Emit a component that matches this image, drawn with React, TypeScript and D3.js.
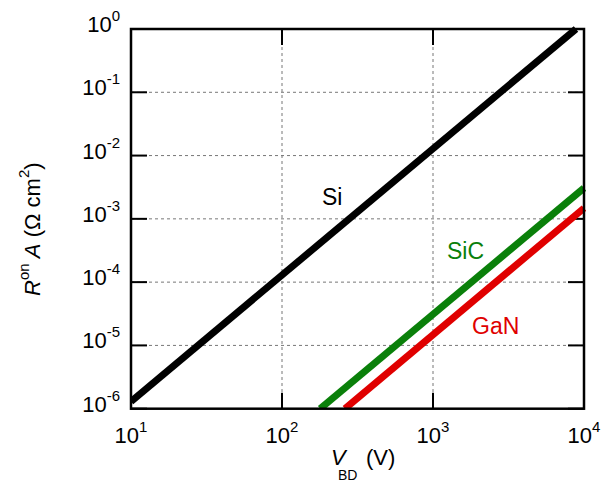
import React from "react";
import * as d3 from "d3";

const xTicks = [1, 2, 3, 4]; // exponents of 10 for V_BD
const yTicks = [0, -1, -2, -3, -4, -5, -6]; // exponents of 10 for RonA

const siV = [10, 8850];
const siR = [1.3e-6, 1.0];
const sicV = [179, 10000];
const sicR = [1.0e-6, 3.07e-3];
const ganV = [261, 10000];
const ganR = [1.0e-6, 1.48e-3];

const seriesNames = ["Si", "SiC", "GaN"];
const seriesColors = ["#000000", "#0a800a", "#e00000"];

const W = 602, H = 485;
const L = 131, R = 584, T = 29, B = 408.7;

export default function App() {
  const x = d3.scaleLog().domain([10, 10000]).range([L, R]);
  const y = d3.scaleLog().domain([1e-6, 1]).range([B, T]);
  const line = d3
    .line<[number, number]>()
    .x((d) => x(d[0]))
    .y((d) => y(d[1]));
  const series: [number, number][][] = [
    siV.map((v, i) => [v, siR[i]] as [number, number]),
    sicV.map((v, i) => [v, sicR[i]] as [number, number]),
    ganV.map((v, i) => [v, ganR[i]] as [number, number]),
  ];
  const labelPos = [
    { x: 322, y: 205 },
    { x: 447, y: 259 },
    { x: 472, y: 334 },
  ];
  const font = "'Liberation Sans', Arial, sans-serif";
  const tickLen = 16;

  return (
    <svg width={W} height={H} style={{ display: "block", position: "absolute", left: 0, top: 0 }} fontFamily={font}>
      <rect x={0} y={0} width={W} height={H} fill="#fff" />
      {/* grid */}
      {xTicks.slice(1, -1).map((e) => (
        <line key={"gx" + e} x1={x(10 ** e)} x2={x(10 ** e)} y1={T} y2={B} stroke="#777" strokeWidth={1} strokeDasharray="3,3" />
      ))}
      {yTicks.slice(1, -1).map((e) => (
        <line key={"gy" + e} x1={L} x2={R} y1={y(10 ** e)} y2={y(10 ** e)} stroke="#777" strokeWidth={1} strokeDasharray="3,3" />
      ))}
      {/* ticks */}
      {xTicks.map((e) => (
        <g key={"tx" + e}>
          <line x1={x(10 ** e)} x2={x(10 ** e)} y1={B} y2={B - tickLen} stroke="#000" strokeWidth={2} />
          <line x1={x(10 ** e)} x2={x(10 ** e)} y1={T} y2={T + tickLen} stroke="#000" strokeWidth={2} />
          <text x={x(10 ** e)} y={443} textAnchor="middle" fontSize={22} fill="#000">
            10<tspan fontSize={15} dy={-11}>{e}</tspan>
          </text>
        </g>
      ))}
      {yTicks.map((e) => (
        <g key={"ty" + e}>
          <line x1={L} x2={L + tickLen} y1={y(10 ** e)} y2={y(10 ** e)} stroke="#000" strokeWidth={2} />
          <line x1={R} x2={R - tickLen} y1={y(10 ** e)} y2={y(10 ** e)} stroke="#000" strokeWidth={2} />
          <text x={120} y={y(10 ** e) + 3} textAnchor="end" fontSize={22} fill="#000">
            10<tspan fontSize={15} dy={-11}>{e}</tspan>
          </text>
        </g>
      ))}
      {/* series */}
      <defs>
        <clipPath id="plotclip">
          <rect x={L} y={T - 5} width={R - L + 2} height={B - T + 5} />
        </clipPath>
      </defs>
      <g clipPath="url(#plotclip)">
        {series.map((s, i) => (
          <path key={seriesNames[i]} d={line(s) || ""} fill="none" stroke={seriesColors[i]} strokeWidth={7} />
        ))}
      </g>
      {seriesNames.map((n, i) => (
        <text key={"lab" + n} x={labelPos[i].x} y={labelPos[i].y} fontSize={23} fill={seriesColors[i]}>
          {n}
        </text>
      ))}
      {/* frame */}
      <rect x={L} y={T} width={R - L} height={B - T} fill="none" stroke="#000" strokeWidth={2.5} />
      {/* x title */}
      <text x={331} y={465} fontSize={22} fontStyle="italic" fill="#000">V</text>
      <text x={338} y={480} fontSize={14} fill="#000">BD</text>
      <text x={366} y={465} fontSize={22} fill="#000">(V)</text>
      {/* y title */}
      <text transform="translate(40,296) rotate(-90)" fontSize={22} fill="#000">
        <tspan fontStyle="italic">R</tspan>
        <tspan fontSize={15} dy={-11}>on</tspan>
        <tspan dy={11} fontStyle="italic"> A</tspan>
        <tspan> (Ω cm</tspan>
        <tspan fontSize={15} dy={-11}>2</tspan>
        <tspan dy={11}>)</tspan>
      </text>
    </svg>
  );
}
